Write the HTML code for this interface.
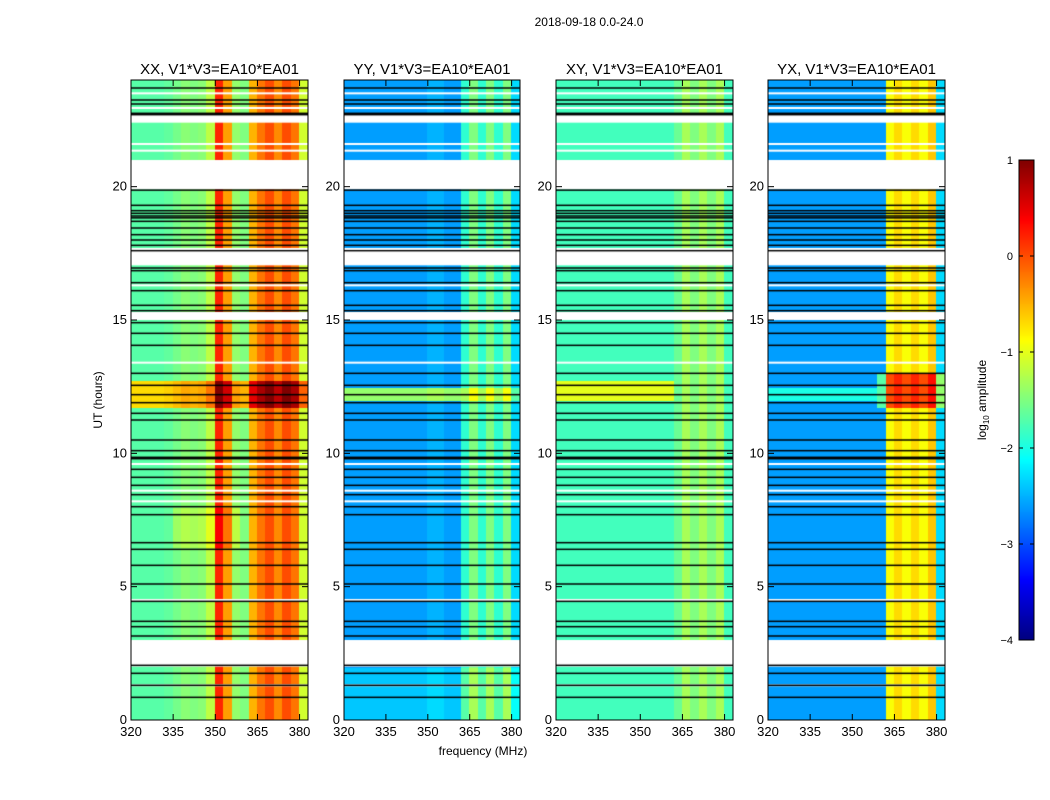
<!DOCTYPE html>
<html><head><meta charset="utf-8">
<style>
body{margin:0;background:#fff;font-family:"Liberation Sans",sans-serif;}
#root{position:relative;width:1050px;height:800px;overflow:hidden;}
canvas{position:absolute;}
svg{position:absolute;left:0;top:0;}
</style></head>
<body>
<div id="root">
<canvas id="c0" width="177" height="640" style="left:131px;top:80px"></canvas>
<canvas id="c1" width="176" height="640" style="left:344px;top:80px"></canvas>
<canvas id="c2" width="177" height="640" style="left:556px;top:80px"></canvas>
<canvas id="c3" width="177" height="640" style="left:768px;top:80px"></canvas>
<canvas id="cb" width="15" height="480" style="left:1019px;top:160px"></canvas>
<svg id="ov" width="1050" height="800"></svg>
</div>
<script>
// ---- data ----
const freqBins = [320,323,326,329,332,335,338,341,344,347,350,353,356,359,362,365,368,371,374,377,380];
const specXX = [-1.7,-1.7,-1.7,-1.7,-1.65,-1.55,-1.45,-1.5,-1.45,-1.2,0.2,-0.4,-1.4,-1.5,-0.5,-0.2,0.0,-0.3,0.0,-0.2,-1.1];
const specYY = [-2.6,-2.6,-2.6,-2.6,-2.6,-2.6,-2.6,-2.6,-2.6,-2.6,-2.5,-2.5,-2.6,-2.6,-1.9,-1.5,-1.9,-1.5,-1.9,-1.5,-2.3];
const specXY = [-1.8,-1.8,-1.8,-1.8,-1.8,-1.8,-1.8,-1.8,-1.8,-1.8,-1.8,-1.8,-1.8,-1.8,-1.6,-1.3,-1.5,-1.3,-1.5,-1.3,-1.8];
const specYX = [-2.6,-2.6,-2.6,-2.6,-2.6,-2.6,-2.6,-2.6,-2.6,-2.6,-2.6,-2.6,-2.6,-2.6,-0.9,-0.7,-0.9,-0.7,-0.9,-0.6,-2.3];
// time boosts: [startHour, endHour, freqLo, freqHi, amount] per panel
const boostXX = [[11.8,12.8,320,383,1.0],[6.5,8.0,335,360,0.2]];
const boostYY = [[12.0,12.6,320,362,1.2],[12.0,12.6,362,383,0.6],[0,2,320,383,0.2]];
const boostXY = [[12.0,12.7,320,362,0.8]];
const boostYX = [[11.8,13.0,360,383,0.9],[12.0,12.6,320,360,0.6]];
const gapStart = [2.0, 15.0, 17.05, 19.9, 22.4];
const gapEnd   = [3.0, 15.3, 17.7, 21.0, 22.7];
const blackLines = [23.7,23.25,23.1,22.75,22.7,19.87,19.3,19.1,19.0,18.9,18.83,18.7,18.45,18.2,18.0,17.8,17.6,16.95,16.85,16.4,16.1,15.55,15.35,14.9,14.5,14.05,13.0,12.55,12.2,11.9,11.5,11.25,10.5,10.1,9.85,9.8,9.4,9.1,8.8,8.45,8.0,7.7,6.65,6.4,5.8,5.1,4.45,3.7,3.5,3.15,2.05,1.75,1.3,0.85];
const whiteLines = [23.5,22.95,21.6,21.35,16.3,13.4,9.6,8.6,8.2,4.5,1.3];
const panelTitles = ["XX, V1*V3=EA10*EA01","YY, V1*V3=EA10*EA01","XY, V1*V3=EA10*EA01","YX, V1*V3=EA10*EA01"];
const xTicks = [320,335,350,365,380];
const yTicks = [0,5,10,15,20];
const cbTicks = [1,0,-1,-2,-3,-4];

const panels = [
 {id:'c0',x:131,w:177,spec:specXX,boost:boostXX,name:'xx'},
 {id:'c1',x:344,w:176,spec:specYY,boost:boostYY,name:'yy'},
 {id:'c2',x:556,w:177,spec:specXY,boost:boostXY,name:'xy'},
 {id:'c3',x:768,w:177,spec:specYX,boost:boostYX,name:'yx'}];
const PT=80,PH=640,FMIN=320,FMAX=383,HMAX=24,VMIN=-4,VMAX=1;

function jet(v){
  let t=(v-VMIN)/(VMAX-VMIN); t=Math.max(0,Math.min(1,t));
  const f=x=>Math.max(0,Math.min(1,x));
  const r=f(1.5-Math.abs(4*t-3)), g=f(1.5-Math.abs(4*t-2)), b=f(1.5-Math.abs(4*t-1));
  return `rgb(${Math.round(r*255)},${Math.round(g*255)},${Math.round(b*255)})`;
}
function hy(h){return PH - h/HMAX*PH;}
const ROWH=0.25;
panels.forEach(p=>{
  const ctx=document.getElementById(p.id).getContext('2d');
  const fx=f=>(f-FMIN)/(FMAX-FMIN)*p.w;
  for(let r=0;r<HMAX/ROWH;r++){
    const h0=r*ROWH,h1=h0+ROWH,hm=h0+ROWH/2;
    for(let c=0;c<freqBins.length;c++){
      const f0=freqBins[c],f1=c+1<freqBins.length?freqBins[c+1]:FMAX,fm=(f0+f1)/2;
      let v=p.spec[c];
      p.boost.forEach(b=>{if(hm>=b[0]&&hm<b[1]&&fm>=b[2]&&fm<b[3])v+=b[4];});
      ctx.fillStyle=jet(v);
      ctx.fillRect(Math.floor(fx(f0)),Math.floor(hy(h1)),Math.ceil(fx(f1)-fx(f0))+1,Math.ceil(hy(h0)-hy(h1))+1);
    }
  }
  ctx.fillStyle='#fff';
  whiteLines.forEach(h=>ctx.fillRect(0,hy(h)-1,p.w,2));
  gapStart.forEach((g,i)=>ctx.fillRect(0,hy(gapEnd[i]),p.w,hy(g)-hy(gapEnd[i])));
  ctx.fillStyle='#000';
  blackLines.forEach(h=>ctx.fillRect(0,hy(h)-0.75,p.w,1.5));
});
// colorbar
(function(){
  const ctx=document.getElementById('cb').getContext('2d');
  for(let y=0;y<480;y++){ctx.fillStyle=jet(VMAX-(y+0.5)/480*(VMAX-VMIN));ctx.fillRect(0,y,15,1);}
})();
// overlay
const svg=document.getElementById('ov');const NS='http://www.w3.org/2000/svg';
function mk(tag,attrs,txt){const e=document.createElementNS(NS,tag);for(const k in attrs)e.setAttribute(k,attrs[k]);if(txt!==undefined)e.textContent=txt;svg.appendChild(e);return e;}
let t=mk('text',{x:589,y:26,'font-size':12,'text-anchor':'middle','font-family':'Liberation Sans'},'2018-09-18 0.0-24.0');


panels.forEach((p,i)=>{
  const fx=f=>p.x+(f-FMIN)/(FMAX-FMIN)*p.w;
  let fr=mk('rect',{x:p.x,y:PT,width:p.w,height:PH,fill:'none',stroke:'#000','stroke-width':1});
  
  
  let tt=mk('text',{x:p.x+p.w/2,y:74,'font-size':15,'text-anchor':'middle','font-family':'Liberation Sans'},panelTitles[i]);
  
  
  xTicks.forEach(v=>{
    const x=fx(v);
    mk('line',{x1:x,y1:PT+PH,x2:x,y2:PT+PH-6,stroke:'#000'});
    mk('line',{x1:x,y1:PT,x2:x,y2:PT+6,stroke:'#000'});
    let l=mk('text',{x:x,y:PT+PH+16,'font-size':13,'text-anchor':'middle','font-family':'Liberation Sans'},v);
    
    
  });
  yTicks.forEach(v=>{
    const y=PT+hy(v);
    mk('line',{x1:p.x,y1:y,x2:p.x+6,y2:y,stroke:'#000'});
    mk('line',{x1:p.x+p.w,y1:y,x2:p.x+p.w-6,y2:y,stroke:'#000'});
    let l=mk('text',{x:p.x-4,y:y+4,'font-size':13,'text-anchor':'end','font-family':'Liberation Sans'},v);
    
    
  });
});
let yl=mk('text',{x:102,y:400,'font-size':12,'text-anchor':'middle','font-family':'Liberation Sans',transform:'rotate(-90 102 400)'},'UT (hours)');


let xl=mk('text',{x:483,y:755,'font-size':12,'text-anchor':'middle','font-family':'Liberation Sans'},'frequency (MHz)');


let cbf=mk('rect',{x:1019,y:160,width:15,height:480,fill:'none',stroke:'#000'});


cbTicks.forEach(v=>{
  const y=160+(VMAX-v)/(VMAX-VMIN)*480;
  mk('line',{x1:1019,y1:y,x2:1023,y2:y,stroke:'#000'});
  mk('line',{x1:1034,y1:y,x2:1030,y2:y,stroke:'#000'});
  let l=mk('text',{x:1013,y:y+4,'font-size':11,'text-anchor':'end','font-family':'Liberation Sans'},v<0?'\u2212'+(-v):String(v));
  
  
});
let cl=mk('text',{x:986,y:400,'font-size':12,'text-anchor':'middle','font-family':'Liberation Sans',transform:'rotate(-90 986 400)'});
cl.innerHTML='log<tspan font-size="8" dy="3">10</tspan><tspan dy="-3"> amplitude</tspan>';


</script>
</body></html>
